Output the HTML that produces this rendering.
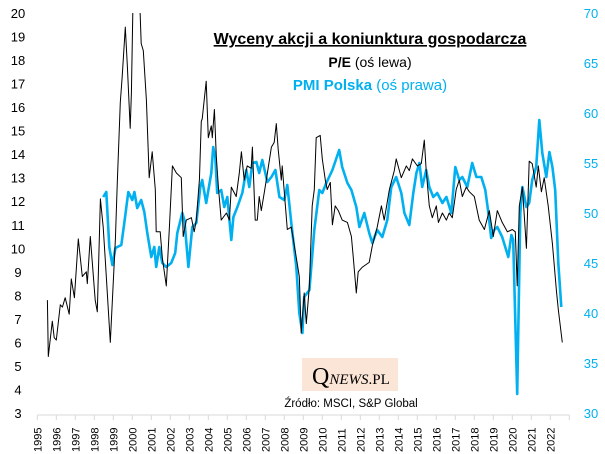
<!DOCTYPE html>
<html><head><meta charset="utf-8"><style>
body{margin:0;background:#fff;}
svg{display:block;font-family:"Liberation Sans",sans-serif;}
</style></head><body>
<svg id="chart" width="605" height="454" viewBox="0 0 605 454">
<g id="axes"></g>
<g id="series"></g>
<text x="370" y="44" text-anchor="middle" font-size="16" font-weight="bold" text-decoration="underline" fill="#000">Wyceny akcji a koniunktura gospodarcza</text>
<text x="370" y="67" text-anchor="middle" font-size="14" fill="#000"><tspan font-weight="bold">P/E</tspan> (oś lewa)</text>
<text x="370" y="90" text-anchor="middle" font-size="15" fill="#00b0f0"><tspan font-weight="bold">PMI Polska</tspan> (oś prawa)</text>
<rect x="302" y="358" width="96" height="33" fill="#fbe5d6"/>
<text x="312" y="384" font-family="Liberation Serif,serif" font-size="24" fill="#000">Q<tspan font-size="15" font-style="italic">NEWS</tspan><tspan font-size="15">.PL</tspan></text>
<text x="351" y="407" text-anchor="middle" font-size="11.5" fill="#000">Źródło: MSCI, S&amp;P Global</text>
</svg>
<script>
const years = [1995,1996,1997,1998,1999,2000,2001,2002,2003,2004,2005,2006,2007,2008,2009,2010,2011,2012,2013,2014,2015,2016,2017,2018,2019,2020,2021,2022];
const leftTicks = [3,4,5,6,7,8,9,10,11,12,13,14,15,16,17,18,19,20];
const rightTicks = [30,35,40,45,50,55,60,65,70];
const peDates = [1995.53,1995.58,1995.79,1995.89,1996.0,1996.21,1996.32,1996.47,1996.68,1996.79,1996.95,1997.16,1997.37,1997.58,1997.63,1997.79,1998.05,1998.16,1998.32,1998.47,1998.58,1998.84,1999.11,1999.21,1999.37,1999.47,1999.63,1999.74,1999.89,1999.95,2000.05,2000.37,2000.47,2000.58,2000.74,2000.89,2001.05,2001.21,2001.26,2001.47,2001.58,2001.79,2001.95,2002.11,2002.32,2002.58,2002.68,2002.84,2003.11,2003.26,2003.37,2003.53,2003.63,2003.68,2003.89,2004.0,2004.16,2004.21,2004.32,2004.42,2004.53,2004.68,2004.95,2005.11,2005.21,2005.47,2005.63,2005.74,2005.89,2006.05,2006.26,2006.32,2006.47,2006.58,2006.68,2006.79,2006.95,2007.11,2007.32,2007.47,2007.58,2007.68,2007.84,2007.89,2008.16,2008.37,2008.63,2008.79,2008.89,2009.05,2009.16,2009.32,2009.47,2009.58,2009.68,2009.89,2010.0,2010.16,2010.26,2010.42,2010.53,2010.68,2010.84,2011.05,2011.32,2011.53,2011.63,2011.79,2011.89,2012.11,2012.47,2012.63,2012.89,2013.11,2013.26,2013.53,2013.79,2013.89,2014.16,2014.42,2014.58,2014.74,2015.0,2015.21,2015.37,2015.47,2015.63,2015.79,2016.0,2016.11,2016.32,2016.53,2016.68,2016.84,2017.05,2017.21,2017.37,2017.58,2017.74,2018.0,2018.26,2018.53,2018.79,2019.0,2019.21,2019.47,2019.74,2020.0,2020.16,2020.26,2020.37,2020.53,2020.74,2020.89,2021.05,2021.26,2021.37,2021.53,2021.68,2021.89,2022.11,2022.32,2022.42,2022.63];
const peValues = [7.8,5.4,6.9,6.2,6.1,7.6,7.5,7.9,7.2,8.7,7.9,10.4,8.8,9.0,8.5,10.5,7.8,7.3,12.1,10.9,9.5,6.0,10.4,12.8,16.2,17.3,19.4,17.7,15.1,16.6,21,21,18.7,18.4,16.3,13.0,14.1,12.5,10.7,10.7,9.6,8.4,10.9,13.5,13.2,13.0,10.5,11.2,11.3,10.7,11.2,12.9,15.4,15.5,17.1,14.7,15.2,14.7,15.9,13.9,12.6,11.2,11.5,11.2,12.6,12.2,13.2,14.1,12.9,13.5,13.4,14.3,11.2,11.2,12.2,11.6,12.4,13.2,14.3,14.5,15.3,14.2,12.9,13.5,10.8,10.9,9.6,8.8,6.4,8.1,6.8,8.4,11.8,12.5,14.7,14.8,13.8,12.9,12.5,12.8,11.0,11.8,11.6,11.2,11.1,10.5,9.6,8.1,9.0,9.2,9.4,10.1,10.9,11.8,11.2,12.5,13.3,13.8,13.0,13.5,13.3,13.8,13.5,13.6,14.6,13.3,11.8,11.3,11.8,11.1,11.5,11.2,11.5,11.3,12.5,12.9,12.2,12.6,12.4,12.2,11.2,10.8,11.6,10.5,11.6,11.1,10.7,10.8,10.7,8.4,11.8,12.6,10.0,13.7,13.6,12.6,13.5,12.4,13.0,11.8,10.2,8.2,7.4,6.0];
const pmiDates = [1998.47,1998.63,1998.79,1998.95,1999.11,1999.42,1999.58,1999.79,2000.0,2000.11,2000.26,2000.47,2000.63,2000.79,2001.0,2001.16,2001.26,2001.42,2001.58,2001.79,2002.05,2002.26,2002.37,2002.63,2002.74,2002.95,2003.16,2003.37,2003.58,2003.68,2003.89,2004.16,2004.26,2004.37,2004.47,2004.68,2004.84,2005.0,2005.21,2005.32,2005.53,2005.79,2006.0,2006.16,2006.32,2006.53,2006.68,2006.84,2007.0,2007.11,2007.32,2007.53,2007.74,2008.0,2008.16,2008.37,2008.63,2008.79,2008.95,2009.05,2009.32,2009.58,2009.84,2010.0,2010.21,2010.53,2010.89,2011.05,2011.32,2011.53,2011.79,2011.95,2012.21,2012.47,2012.63,2012.89,2013.16,2013.42,2013.63,2013.89,2014.16,2014.32,2014.58,2014.79,2014.95,2015.11,2015.26,2015.47,2015.63,2015.84,2016.05,2016.32,2016.53,2016.79,2017.0,2017.21,2017.37,2017.63,2017.89,2018.11,2018.37,2018.58,2018.74,2018.89,2019.05,2019.21,2019.47,2019.79,2019.95,2020.05,2020.26,2020.42,2020.53,2020.74,2020.89,2021.05,2021.26,2021.42,2021.58,2021.79,2021.95,2022.11,2022.26,2022.42,2022.58];
const pmiValues = [51.6,52.1,46.6,44.8,46.5,46.8,49.0,52.1,51.3,52.1,50.5,51.3,50.1,48.0,45.6,46.6,44.6,46.6,45.0,44.6,45.0,46.0,48.0,50.0,49.3,44.6,48.6,49.0,52.6,53.3,51.0,54.0,56.6,55.6,52.0,52.3,50.6,51.6,47.3,49.6,50.6,52.0,54.3,52.6,55.0,55.1,54.0,55.3,54.0,53.1,53.6,54.3,51.6,51.3,52.8,49.0,44.6,40.0,38.0,41.6,42.3,48.3,52.3,52.0,53.0,54.3,56.3,54.6,53.0,52.3,50.6,48.6,50.0,48.0,47.0,48.3,47.6,49.3,52.6,53.6,52.0,50.0,48.8,52.0,54.0,55.0,52.6,54.3,52.6,51.6,52.0,51.0,51.6,50.0,54.6,53.3,53.6,52.6,55.0,53.6,53.6,52.3,50.0,47.5,48.3,48.6,47.6,45.6,47.8,47.3,31.9,50.0,52.6,50.6,51.0,53.3,54.6,59.3,56.0,53.6,56.1,54.6,52.3,45.0,40.6];

const NS='http://www.w3.org/2000/svg';
const xS = t => 37.3 + (t-1995)*19;
const yL = v => 13 + (20-v)*(400/17);
const yR = v => 13 + (70-v)*10;
const axes=document.getElementById('axes'), ser=document.getElementById('series');
function mk(tag,attrs,parent){const e=document.createElementNS(NS,tag);for(const k in attrs)e.setAttribute(k,attrs[k]);parent.appendChild(e);return e;}

const xl = mk('line',{x1:37.3,x2:xS(2023),y1:415,y2:415,stroke:'#d9d9d9','stroke-width':1},axes);


for(let i=0;i<=years.length;i++){
  const t=mk('line',{x1:xS(1995+i),x2:xS(1995+i),y1:415,y2:420,stroke:'#d9d9d9'},axes);
  
  
}
years.forEach(y=>{
  const x=xS(y)+4;
  const tx=mk('text',{x:x,y:452,'font-size':11,fill:'#000',transform:`rotate(-90 ${x} 452)`},axes);
  tx.textContent=y;
  
  
});
leftTicks.forEach(v=>{
  const tx=mk('text',{x:18,y:yL(v)+5,'font-size':13,'text-anchor':'middle',fill:'#000'},axes);
  tx.textContent=v;
  
  
});
rightTicks.forEach(v=>{
  const tx=mk('text',{x:591,y:yR(v)+5,'font-size':13,'text-anchor':'middle',fill:'#00b0f0'},axes);
  tx.textContent=v;
  
  
});
const clip=mk('clipPath',{id:'plotclip'},ser);
mk('rect',{x:30,y:13,width:545,height:402},clip);
const pmiPath = mk('path',{d:pmiDates.map((t,i)=>(i?'L':'M')+xS(t).toFixed(1)+','+yR(pmiValues[i]).toFixed(1)).join(''),fill:'none',stroke:'#00b0f0','stroke-width':2.6,'stroke-linejoin':'round','clip-path':'url(#plotclip)'},ser);


const pePath = mk('path',{d:peDates.map((t,i)=>(i?'L':'M')+xS(t).toFixed(1)+','+yL(peValues[i]).toFixed(1)).join(''),fill:'none',stroke:'#000','stroke-width':1,'stroke-linejoin':'round','clip-path':'url(#plotclip)'},ser);


</script>
</body></html>
